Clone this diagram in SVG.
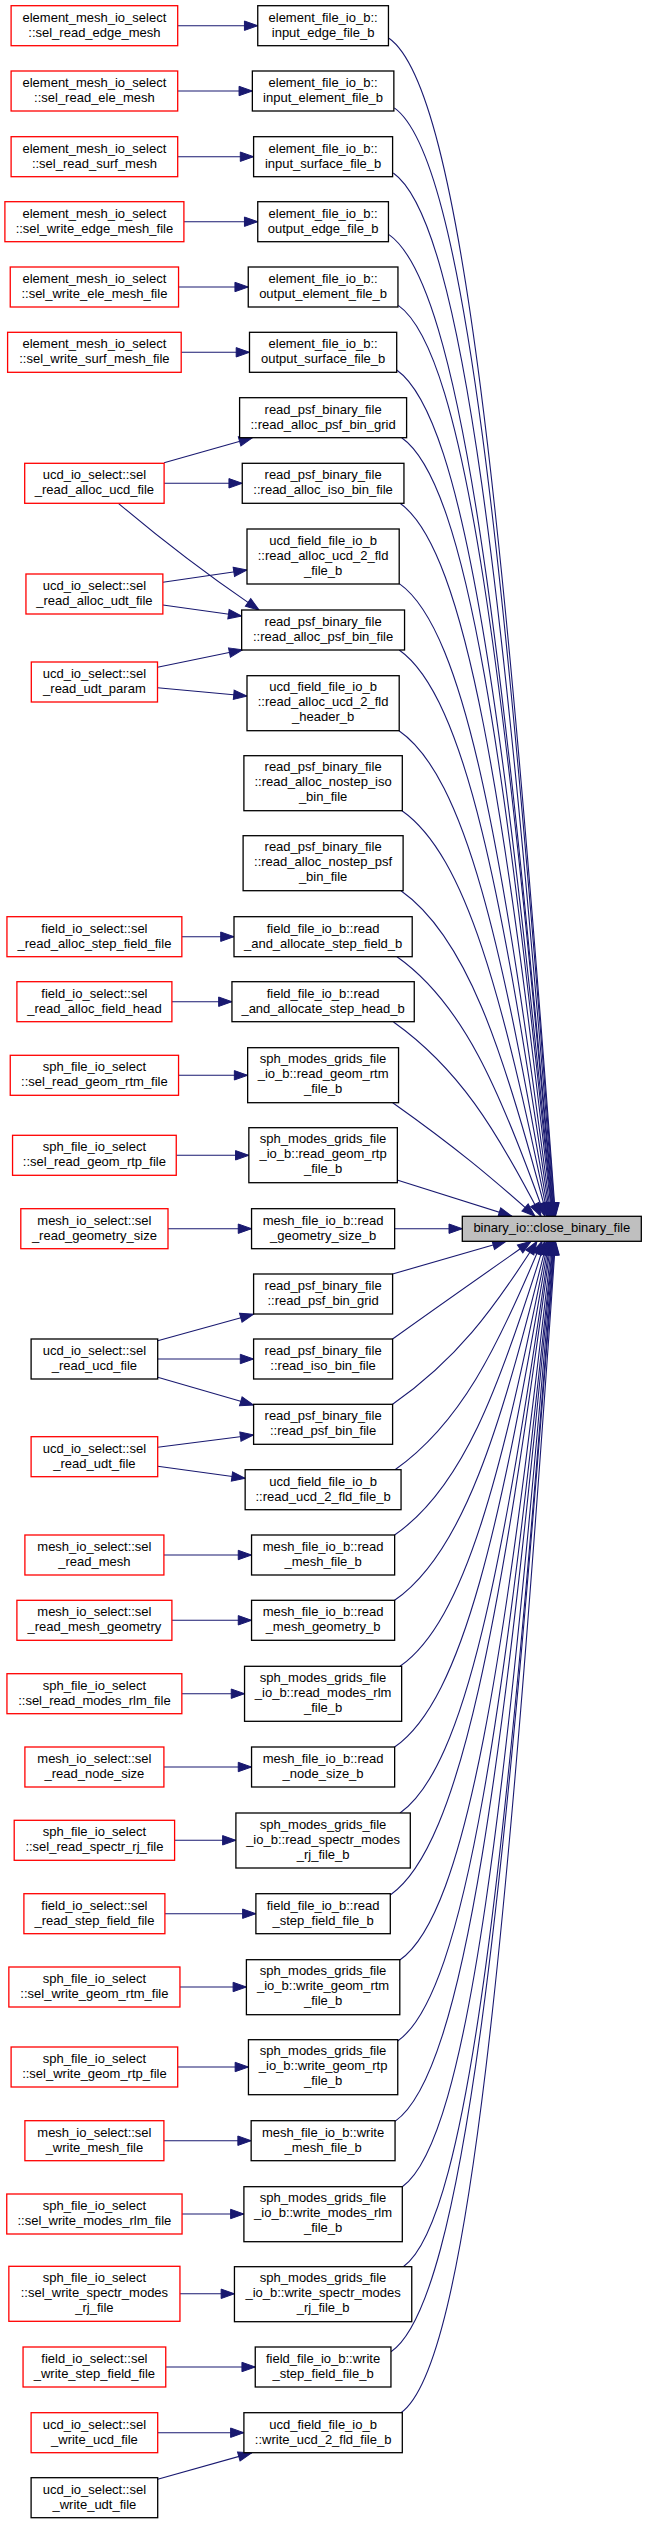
<svg xmlns="http://www.w3.org/2000/svg" width="647" height="2524" viewBox="0 0 647 2524">
<style>
.r{fill:#fff;stroke:#ff0000;stroke-width:1.3}
.k{fill:#fff;stroke:#000;stroke-width:1.3}
.m{fill:#bfbfbf;stroke:#000;stroke-width:1.3}
text{font-family:"Liberation Sans",Arial,sans-serif;font-size:13px;fill:#000;text-anchor:middle}
.e{fill:none;stroke:#191970;stroke-width:1.1;marker-end:url(#arr)}
</style>
<defs>
<marker id="arr" markerUnits="userSpaceOnUse" markerWidth="15" markerHeight="11" refX="13.3" refY="4.7" orient="auto" overflow="visible">
<path d="M0,0 L13.3,4.7 L0,9.4 Z" fill="#191970" stroke="#191970" stroke-width="1"/>
</marker>
</defs>
<rect width="647" height="2524" fill="#fff"/>
<g id="edges">
<path class="e" d="M177.7,25.7 L257.75,25.7"/>
<path class="e" d="M177.7,91 L252.35,91"/>
<path class="e" d="M177.7,156.7 L253.6,156.7"/>
<path class="e" d="M183.9,221.7 L257.75,221.7"/>
<path class="e" d="M178.55,287 L248.25,287"/>
<path class="e" d="M181.2,352.3 L249.5,352.3"/>
<path class="e" d="M164.1,462.7 L252.4,437.7"/>
<path class="e" d="M164.1,483.3 L242.25,483.3"/>
<path class="e" d="M118.4,503.3 C190,563.9 234.1,592.8 259,610"/>
<path class="e" d="M162.9,582.3 L247,570"/>
<path class="e" d="M162.9,605 L241.65,616"/>
<path class="e" d="M157.5,667.3 L242.5,649.8"/>
<path class="e" d="M157.5,687.7 L247,696"/>
<path class="e" d="M181.85,936.7 L234,936.7"/>
<path class="e" d="M171.9,1001.7 L231.95,1001.7"/>
<path class="e" d="M178.55,1075.3 L247.65,1075.3"/>
<path class="e" d="M176.25,1155.3 L248.85,1155.3"/>
<path class="e" d="M168,1228.7 L251.55,1228.7"/>
<path class="e" d="M157.7,1340.7 L253.6,1314.2"/>
<path class="e" d="M157.7,1359 L253.6,1359"/>
<path class="e" d="M157.7,1377.3 L253.6,1405"/>
<path class="e" d="M157.7,1447.3 L253.6,1435"/>
<path class="e" d="M157.7,1466.3 L245.15,1478.3"/>
<path class="e" d="M163.9,1555 L251.55,1555"/>
<path class="e" d="M171.9,1620.3 L251.55,1620.3"/>
<path class="e" d="M181.85,1693.7 L244.55,1693.7"/>
<path class="e" d="M163.9,1767 L251.55,1767"/>
<path class="e" d="M174.6,1840.3 L235.9,1840.3"/>
<path class="e" d="M164.9,1913.7 L255.9,1913.7"/>
<path class="e" d="M179.95,1987 L246.4,1987"/>
<path class="e" d="M177.7,2067 L248.45,2067"/>
<path class="e" d="M163.9,2140.7 L251.15,2140.7"/>
<path class="e" d="M182.05,2214 L243.9,2214"/>
<path class="e" d="M179.95,2293.8 L234.45,2293.8"/>
<path class="e" d="M165.75,2367 L255.25,2367"/>
<path class="e" d="M157.7,2432.7 L243.9,2432.7"/>
<path class="e" d="M157.7,2479.3 L251.6,2452.9"/>
<path class="e" d="M389,38.3 C462.3,89.9 503.9,522.1 555.5,1216.3"/>
<path class="e" d="M394.3,107.9 C465,157.7 505.2,563.9 555,1216.3"/>
<path class="e" d="M393.3,173 C464.2,223 504.5,604.4 554.5,1216.3"/>
<path class="e" d="M389,234.6 C461.6,285.8 502.8,643.5 554,1216.3"/>
<path class="e" d="M398.3,305.4 C466.6,353.5 505.4,685.2 553.5,1216.3"/>
<path class="e" d="M396.7,370 C465.5,418.5 504.5,725.5 553,1216.3"/>
<path class="e" d="M401.7,437.7 C468.1,484.1 505.8,766.1 552.5,1216.3"/>
<path class="e" d="M400,503.3 C466.9,550.7 504.9,807.4 552,1216.3"/>
<path class="e" d="M399.3,583.6 C466,630.6 504,856.9 551,1216.3"/>
<path class="e" d="M399.2,650 C465.6,696.7 503.3,897.9 550,1216.3"/>
<path class="e" d="M399,730.7 C465.6,776.9 502.8,947.6 549,1216.3"/>
<path class="e" d="M402,810.7 C466.2,856 502.7,996.5 548,1216.3"/>
<path class="e" d="M401,890.7 C465.2,936 502.7,1046.1 547,1216.3"/>
<path class="e" d="M397,956.7 C462.1,1002.6 499.1,1087.5 545,1216.3"/>
<path class="e" d="M393.5,1022 C458.4,1068.2 495.3,1128.1 541,1216.3"/>
<path class="e" d="M392.7,1102.7 C455.3,1147.1 490.9,1176.9 535,1216.3"/>
<path class="e" d="M397.1,1180 L512,1216.3"/>
<path class="e" d="M394.7,1228.7 L462.3,1228.7"/>
<path class="e" d="M392.6,1274 L506,1241.3"/>
<path class="e" d="M392.6,1339 C453.6,1295.4 488.1,1271.4 531,1241.3"/>
<path class="e" d="M392.6,1404.3 C456.5,1359.5 492.5,1311 537,1241.3"/>
<path class="e" d="M395,1469.7 C459.7,1423.9 496.4,1350.9 542,1241.3"/>
<path class="e" d="M394.6,1535 C461.6,1488.8 498.8,1391 545,1241.3"/>
<path class="e" d="M394.6,1600.3 C462.4,1553.7 500.2,1431.2 547,1241.3"/>
<path class="e" d="M400,1666.3 C465.1,1620.6 502.1,1472.8 548,1241.3"/>
<path class="e" d="M394.6,1747 C463.3,1699.6 501.6,1521.6 549,1241.3"/>
<path class="e" d="M400,1813 C466,1766.5 503.5,1563.2 550,1241.3"/>
<path class="e" d="M390.3,1895 C461.4,1845.4 501.4,1611.9 551,1241.3"/>
<path class="e" d="M399.8,1960 C467.3,1913.1 505.1,1654 552,1241.3"/>
<path class="e" d="M397.7,2041 C466.4,1993 505,1703.6 553,1241.3"/>
<path class="e" d="M395,2121.4 C465.1,2072.5 504.6,1752.7 553.5,1241.3"/>
<path class="e" d="M402.3,2186.7 C469.1,2139.5 507,1794.4 554,1241.3"/>
<path class="e" d="M403.3,2266.7 C469.8,2219.6 507.6,1844.1 554.5,1241.3"/>
<path class="e" d="M391,2351.8 C464.3,2301.6 504.8,1894.7 555,1241.3"/>
<path class="e" d="M401,2412.7 C469,2364.8 507.6,1934 555.5,1241.3"/>
</g>
<g id="n1"><rect class="r" x="11.1" y="5.7" width="166.6" height="40"/><text x="94.4" y="21.7">element_mesh_io_select<tspan x="94.4" dy="15">::sel_read_edge_mesh</tspan></text></g>
<g id="n2"><rect class="r" x="11.1" y="71" width="166.6" height="40"/><text x="94.4" y="87">element_mesh_io_select<tspan x="94.4" dy="15">::sel_read_ele_mesh</tspan></text></g>
<g id="n3"><rect class="r" x="11.1" y="136.7" width="166.6" height="40"/><text x="94.4" y="152.7">element_mesh_io_select<tspan x="94.4" dy="15">::sel_read_surf_mesh</tspan></text></g>
<g id="n4"><rect class="r" x="4.9" y="201.7" width="179" height="40"/><text x="94.4" y="217.7">element_mesh_io_select<tspan x="94.4" dy="15">::sel_write_edge_mesh_file</tspan></text></g>
<g id="n5"><rect class="r" x="10.25" y="267" width="168.3" height="40"/><text x="94.4" y="283">element_mesh_io_select<tspan x="94.4" dy="15">::sel_write_ele_mesh_file</tspan></text></g>
<g id="n6"><rect class="r" x="7.6" y="332.3" width="173.6" height="40"/><text x="94.4" y="348.3">element_mesh_io_select<tspan x="94.4" dy="15">::sel_write_surf_mesh_file</tspan></text></g>
<g id="n7"><rect class="r" x="24.7" y="463.3" width="139.4" height="40"/><text x="94.4" y="479.3">ucd_io_select::sel<tspan x="94.4" dy="15">_read_alloc_ucd_file</tspan></text></g>
<g id="n8"><rect class="r" x="25.95" y="574" width="136.9" height="40"/><text x="94.4" y="590">ucd_io_select::sel<tspan x="94.4" dy="15">_read_alloc_udt_file</tspan></text></g>
<g id="n9"><rect class="r" x="31.3" y="662" width="126.2" height="40"/><text x="94.4" y="678">ucd_io_select::sel<tspan x="94.4" dy="15">_read_udt_param</tspan></text></g>
<g id="n10"><rect class="r" x="6.95" y="916.7" width="174.9" height="40"/><text x="94.4" y="932.7">field_io_select::sel<tspan x="94.4" dy="15">_read_alloc_step_field_file</tspan></text></g>
<g id="n11"><rect class="r" x="16.9" y="981.7" width="155" height="40"/><text x="94.4" y="997.7">field_io_select::sel<tspan x="94.4" dy="15">_read_alloc_field_head</tspan></text></g>
<g id="n12"><rect class="r" x="10.25" y="1055.3" width="168.3" height="40"/><text x="94.4" y="1071.3">sph_file_io_select<tspan x="94.4" dy="15">::sel_read_geom_rtm_file</tspan></text></g>
<g id="n13"><rect class="r" x="12.55" y="1135.3" width="163.7" height="40"/><text x="94.4" y="1151.3">sph_file_io_select<tspan x="94.4" dy="15">::sel_read_geom_rtp_file</tspan></text></g>
<g id="n14"><rect class="r" x="20.8" y="1208.7" width="147.2" height="40"/><text x="94.4" y="1224.7">mesh_io_select::sel<tspan x="94.4" dy="15">_read_geometry_size</tspan></text></g>
<g id="n15"><rect class="k" x="31.1" y="1339" width="126.6" height="40"/><text x="94.4" y="1355">ucd_io_select::sel<tspan x="94.4" dy="15">_read_ucd_file</tspan></text></g>
<g id="n16"><rect class="r" x="31.1" y="1436.7" width="126.6" height="40"/><text x="94.4" y="1452.7">ucd_io_select::sel<tspan x="94.4" dy="15">_read_udt_file</tspan></text></g>
<g id="n17"><rect class="r" x="24.9" y="1535" width="139" height="40"/><text x="94.4" y="1551">mesh_io_select::sel<tspan x="94.4" dy="15">_read_mesh</tspan></text></g>
<g id="n18"><rect class="r" x="16.9" y="1600.3" width="155" height="40"/><text x="94.4" y="1616.3">mesh_io_select::sel<tspan x="94.4" dy="15">_read_mesh_geometry</tspan></text></g>
<g id="n19"><rect class="r" x="6.95" y="1673.7" width="174.9" height="40"/><text x="94.4" y="1689.7">sph_file_io_select<tspan x="94.4" dy="15">::sel_read_modes_rlm_file</tspan></text></g>
<g id="n20"><rect class="r" x="24.9" y="1747" width="139" height="40"/><text x="94.4" y="1763">mesh_io_select::sel<tspan x="94.4" dy="15">_read_node_size</tspan></text></g>
<g id="n21"><rect class="r" x="14.2" y="1820.3" width="160.4" height="40"/><text x="94.4" y="1836.3">sph_file_io_select<tspan x="94.4" dy="15">::sel_read_spectr_rj_file</tspan></text></g>
<g id="n22"><rect class="r" x="23.9" y="1893.7" width="141" height="40"/><text x="94.4" y="1909.7">field_io_select::sel<tspan x="94.4" dy="15">_read_step_field_file</tspan></text></g>
<g id="n23"><rect class="r" x="8.85" y="1967" width="171.1" height="40"/><text x="94.4" y="1983">sph_file_io_select<tspan x="94.4" dy="15">::sel_write_geom_rtm_file</tspan></text></g>
<g id="n24"><rect class="r" x="11.1" y="2047" width="166.6" height="40"/><text x="94.4" y="2063">sph_file_io_select<tspan x="94.4" dy="15">::sel_write_geom_rtp_file</tspan></text></g>
<g id="n25"><rect class="r" x="24.9" y="2120.7" width="139" height="40"/><text x="94.4" y="2136.7">mesh_io_select::sel<tspan x="94.4" dy="15">_write_mesh_file</tspan></text></g>
<g id="n26"><rect class="r" x="6.75" y="2194" width="175.3" height="40"/><text x="94.4" y="2210">sph_file_io_select<tspan x="94.4" dy="15">::sel_write_modes_rlm_file</tspan></text></g>
<g id="n27"><rect class="r" x="8.85" y="2266.3" width="171.1" height="55"/><text x="94.4" y="2281.8">sph_file_io_select<tspan x="94.4" dy="15">::sel_write_spectr_modes</tspan><tspan x="94.4" dy="15">_rj_file</tspan></text></g>
<g id="n28"><rect class="r" x="23.05" y="2347" width="142.7" height="40"/><text x="94.4" y="2363">field_io_select::sel<tspan x="94.4" dy="15">_write_step_field_file</tspan></text></g>
<g id="n29"><rect class="r" x="31.1" y="2412.7" width="126.6" height="40"/><text x="94.4" y="2428.7">ucd_io_select::sel<tspan x="94.4" dy="15">_write_ucd_file</tspan></text></g>
<g id="n30"><rect class="k" x="31.1" y="2477.7" width="126.6" height="40"/><text x="94.4" y="2493.7">ucd_io_select::sel<tspan x="94.4" dy="15">_write_udt_file</tspan></text></g>
<g id="c_a"><rect class="k" x="257.75" y="5.7" width="130.7" height="40"/><text x="323.1" y="21.7">element_file_io_b::<tspan x="323.1" dy="15">input_edge_file_b</tspan></text></g>
<g id="c_b"><rect class="k" x="252.35" y="71" width="141.5" height="40"/><text x="323.1" y="87">element_file_io_b::<tspan x="323.1" dy="15">input_element_file_b</tspan></text></g>
<g id="c_c"><rect class="k" x="253.6" y="136.7" width="139" height="40"/><text x="323.1" y="152.7">element_file_io_b::<tspan x="323.1" dy="15">input_surface_file_b</tspan></text></g>
<g id="c_d"><rect class="k" x="257.75" y="201.7" width="130.7" height="40"/><text x="323.1" y="217.7">element_file_io_b::<tspan x="323.1" dy="15">output_edge_file_b</tspan></text></g>
<g id="c_e"><rect class="k" x="248.25" y="267" width="149.7" height="40"/><text x="323.1" y="283">element_file_io_b::<tspan x="323.1" dy="15">output_element_file_b</tspan></text></g>
<g id="c_f"><rect class="k" x="249.5" y="332.3" width="147.2" height="40"/><text x="323.1" y="348.3">element_file_io_b::<tspan x="323.1" dy="15">output_surface_file_b</tspan></text></g>
<g id="c_g"><rect class="k" x="239.6" y="397.7" width="167" height="40"/><text x="323.1" y="413.7">read_psf_binary_file<tspan x="323.1" dy="15">::read_alloc_psf_bin_grid</tspan></text></g>
<g id="c_h"><rect class="k" x="242.25" y="463.3" width="161.7" height="40"/><text x="323.1" y="479.3">read_psf_binary_file<tspan x="323.1" dy="15">::read_alloc_iso_bin_file</tspan></text></g>
<g id="c_i"><rect class="k" x="247" y="529" width="152.2" height="55"/><text x="323.1" y="544.5">ucd_field_file_io_b<tspan x="323.1" dy="15">::read_alloc_ucd_2_fld</tspan><tspan x="323.1" dy="15">_file_b</tspan></text></g>
<g id="c_j"><rect class="k" x="241.65" y="610" width="162.9" height="40"/><text x="323.1" y="626">read_psf_binary_file<tspan x="323.1" dy="15">::read_alloc_psf_bin_file</tspan></text></g>
<g id="c_k"><rect class="k" x="247" y="675.7" width="152.2" height="55"/><text x="323.1" y="691.2">ucd_field_file_io_b<tspan x="323.1" dy="15">::read_alloc_ucd_2_fld</tspan><tspan x="323.1" dy="15">_header_b</tspan></text></g>
<g id="c_l"><rect class="k" x="243.9" y="755.7" width="158.4" height="55"/><text x="323.1" y="771.2">read_psf_binary_file<tspan x="323.1" dy="15">::read_alloc_nostep_iso</tspan><tspan x="323.1" dy="15">_bin_file</tspan></text></g>
<g id="c_m"><rect class="k" x="243.1" y="835.7" width="160" height="55"/><text x="323.1" y="851.2">read_psf_binary_file<tspan x="323.1" dy="15">::read_alloc_nostep_psf</tspan><tspan x="323.1" dy="15">_bin_file</tspan></text></g>
<g id="c_n"><rect class="k" x="234" y="916.7" width="178.2" height="40"/><text x="323.1" y="932.7">field_file_io_b::read<tspan x="323.1" dy="15">_and_allocate_step_field_b</tspan></text></g>
<g id="c_o"><rect class="k" x="231.95" y="981.7" width="182.3" height="40"/><text x="323.1" y="997.7">field_file_io_b::read<tspan x="323.1" dy="15">_and_allocate_step_head_b</tspan></text></g>
<g id="c_p"><rect class="k" x="247.65" y="1047.7" width="150.9" height="55"/><text x="323.1" y="1063.2">sph_modes_grids_file<tspan x="323.1" dy="15">_io_b::read_geom_rtm</tspan><tspan x="323.1" dy="15">_file_b</tspan></text></g>
<g id="c_q"><rect class="k" x="248.85" y="1127.7" width="148.5" height="55"/><text x="323.1" y="1143.2">sph_modes_grids_file<tspan x="323.1" dy="15">_io_b::read_geom_rtp</tspan><tspan x="323.1" dy="15">_file_b</tspan></text></g>
<g id="c_r"><rect class="k" x="251.55" y="1208.7" width="143.1" height="40"/><text x="323.1" y="1224.7">mesh_file_io_b::read<tspan x="323.1" dy="15">_geometry_size_b</tspan></text></g>
<g id="c_s"><rect class="k" x="253.6" y="1274" width="139" height="40"/><text x="323.1" y="1290">read_psf_binary_file<tspan x="323.1" dy="15">::read_psf_bin_grid</tspan></text></g>
<g id="c_t"><rect class="k" x="253.6" y="1339" width="139" height="40"/><text x="323.1" y="1355">read_psf_binary_file<tspan x="323.1" dy="15">::read_iso_bin_file</tspan></text></g>
<g id="c_u"><rect class="k" x="253.6" y="1404.3" width="139" height="40"/><text x="323.1" y="1420.3">read_psf_binary_file<tspan x="323.1" dy="15">::read_psf_bin_file</tspan></text></g>
<g id="c_v"><rect class="k" x="245.15" y="1469.7" width="155.9" height="40"/><text x="323.1" y="1485.7">ucd_field_file_io_b<tspan x="323.1" dy="15">::read_ucd_2_fld_file_b</tspan></text></g>
<g id="c_w"><rect class="k" x="251.55" y="1535" width="143.1" height="40"/><text x="323.1" y="1551">mesh_file_io_b::read<tspan x="323.1" dy="15">_mesh_file_b</tspan></text></g>
<g id="c_x"><rect class="k" x="251.55" y="1600.3" width="143.1" height="40"/><text x="323.1" y="1616.3">mesh_file_io_b::read<tspan x="323.1" dy="15">_mesh_geometry_b</tspan></text></g>
<g id="c_y"><rect class="k" x="244.55" y="1666.3" width="157.1" height="55"/><text x="323.1" y="1681.8">sph_modes_grids_file<tspan x="323.1" dy="15">_io_b::read_modes_rlm</tspan><tspan x="323.1" dy="15">_file_b</tspan></text></g>
<g id="c_z"><rect class="k" x="251.55" y="1747" width="143.1" height="40"/><text x="323.1" y="1763">mesh_file_io_b::read<tspan x="323.1" dy="15">_node_size_b</tspan></text></g>
<g id="c_aa"><rect class="k" x="235.9" y="1813" width="174.4" height="55"/><text x="323.1" y="1828.5">sph_modes_grids_file<tspan x="323.1" dy="15">_io_b::read_spectr_modes</tspan><tspan x="323.1" dy="15">_rj_file_b</tspan></text></g>
<g id="c_ab"><rect class="k" x="255.9" y="1893.7" width="134.4" height="40"/><text x="323.1" y="1909.7">field_file_io_b::read<tspan x="323.1" dy="15">_step_field_file_b</tspan></text></g>
<g id="c_ac"><rect class="k" x="246.4" y="1959.7" width="153.4" height="55"/><text x="323.1" y="1975.2">sph_modes_grids_file<tspan x="323.1" dy="15">_io_b::write_geom_rtm</tspan><tspan x="323.1" dy="15">_file_b</tspan></text></g>
<g id="c_ad"><rect class="k" x="248.45" y="2039.7" width="149.3" height="55"/><text x="323.1" y="2055.2">sph_modes_grids_file<tspan x="323.1" dy="15">_io_b::write_geom_rtp</tspan><tspan x="323.1" dy="15">_file_b</tspan></text></g>
<g id="c_ae"><rect class="k" x="251.15" y="2120.7" width="143.9" height="40"/><text x="323.1" y="2136.7">mesh_file_io_b::write<tspan x="323.1" dy="15">_mesh_file_b</tspan></text></g>
<g id="c_af"><rect class="k" x="243.9" y="2186.7" width="158.4" height="55"/><text x="323.1" y="2202.2">sph_modes_grids_file<tspan x="323.1" dy="15">_io_b::write_modes_rlm</tspan><tspan x="323.1" dy="15">_file_b</tspan></text></g>
<g id="c_ag"><rect class="k" x="234.45" y="2266.7" width="177.3" height="55"/><text x="323.1" y="2282.2">sph_modes_grids_file<tspan x="323.1" dy="15">_io_b::write_spectr_modes</tspan><tspan x="323.1" dy="15">_rj_file_b</tspan></text></g>
<g id="c_ah"><rect class="k" x="255.25" y="2347" width="135.7" height="40"/><text x="323.1" y="2363">field_file_io_b::write<tspan x="323.1" dy="15">_step_field_file_b</tspan></text></g>
<g id="c_ai"><rect class="k" x="243.9" y="2412.7" width="158.4" height="40"/><text x="323.1" y="2428.7">ucd_field_file_io_b<tspan x="323.1" dy="15">::write_ucd_2_fld_file_b</tspan></text></g>
<g id="target"><rect class="m" x="462.3" y="1216.3" width="179" height="25"/><text x="551.8" y="1232">binary_io::close_binary_file</text></g>
</svg>
